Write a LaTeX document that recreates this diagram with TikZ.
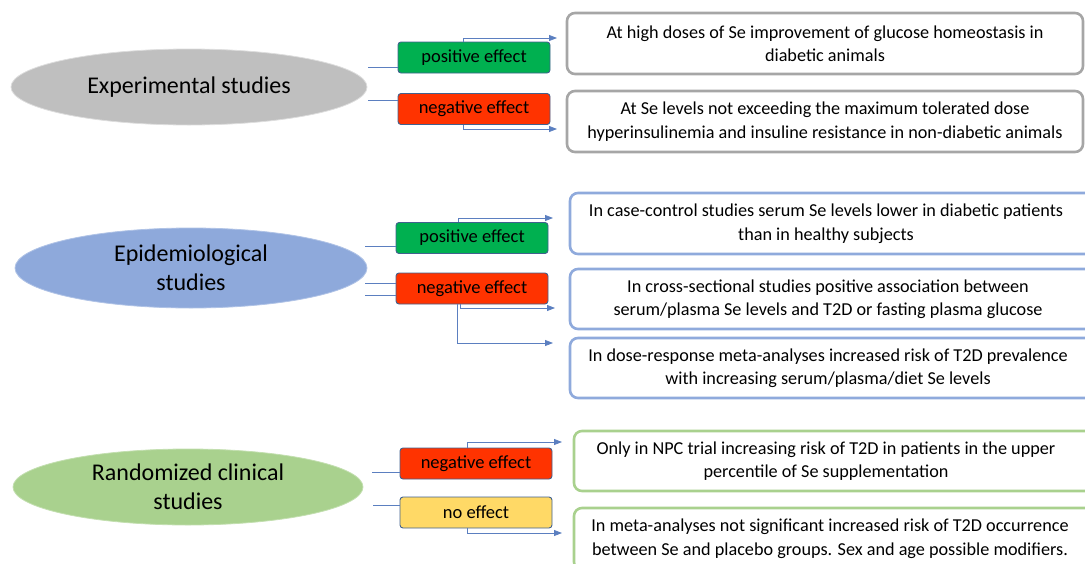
\documentclass[tikz,border=0pt]{standalone}
\usepackage{fontspec}
\setmainfont{Carlito}
\usetikzlibrary{shapes.geometric,arrows.meta}
\definecolor{ellgray}{HTML}{BFBFBF}
\definecolor{ellblue}{HTML}{8EA9DB}
\definecolor{ellgreen}{HTML}{A9D18E}
\definecolor{posgreen}{HTML}{00B050}
\definecolor{negred}{HTML}{FF3300}
\definecolor{noyellow}{HTML}{FFD966}
\definecolor{boxedge}{HTML}{41618F}
\definecolor{linkblue}{HTML}{5B7FC0}
\definecolor{rgray}{HTML}{A6A6A6}
\definecolor{rblue}{HTML}{8FAADC}
\definecolor{rgreen}{HTML}{A9D18E}
\begin{document}
\begin{tikzpicture}[x=1pt,y=-1pt,
  ell/.style={ellipse, draw=white!55!black!30, line width=0.8pt, inner sep=0pt, align=center,
    font=\fontsize{24}{29}\selectfont},
  effbox/.style={draw=boxedge, line width=0.9pt, rounded corners=3pt, minimum width=152pt,
    minimum height=31pt, inner sep=0pt, font=\fontsize{18.5}{21}\selectfont},
  rbox/.style={draw, line width=2.6pt, rounded corners=8pt, fill=white, inner sep=0pt},
  rtext/.style={align=center, inner sep=0pt, font=\fontsize{18.2}{23.5}\selectfont},
  ln/.style={draw=linkblue, line width=0.8pt},
  arr/.style={draw=linkblue, line width=0.8pt, -{Triangle[length=8pt,width=6pt]}}]
\useasboundingbox (0,0) rectangle (1085,563);
\clip (0,0) rectangle (1085,563);

% ellipses
\node[ell, fill=ellgray, minimum width=356pt, minimum height=76pt] (exp) at (189,87) {Experimental studies};
\node[ell, fill=ellblue, draw=ellblue!70!white, minimum width=352pt, minimum height=80pt] (epi) at (191,268) {Epidemiological\\studies};
\node[ell, fill=ellgreen, draw=ellgreen!70!white, minimum width=350pt, minimum height=76pt] (rct) at (188,487) {Randomized clinical\\studies};

% effect boxes
\node[effbox, fill=posgreen] (pe1) at (474,57.5) {positive effect};
\node[effbox, fill=negred] (ne1) at (474,109) {negative effect};
\node[effbox, fill=posgreen] (pe2) at (472,238) {positive effect};
\node[effbox, fill=negred] (ne2) at (472,288.5) {negative effect};
\node[effbox, fill=negred] (ne3) at (476,463.5) {negative effect};
\node[effbox, fill=noyellow] (no3) at (476,512.5) {no effect};

% right boxes
\node[rbox, draw=rgray, minimum width=516pt, minimum height=61pt] (r1) at (825,43.5) {};
\node[rbox, draw=rgray, minimum width=516pt, minimum height=61pt] (r2) at (825,121.5) {};
\node[rbox, draw=rblue, minimum width=530pt, minimum height=61pt] (r3) at (835,223.5) {};
\node[rbox, draw=rblue, minimum width=530pt, minimum height=60pt] (r4) at (835,299) {};
\node[rbox, draw=rblue, minimum width=530pt, minimum height=60pt] (r5) at (835,368) {};
\node[rbox, draw=rgreen, minimum width=526pt, minimum height=60pt] (r6) at (837,461) {};
\node[rbox, draw=rgreen, minimum width=526pt, minimum height=62pt] (r7) at (837,539) {};

\node[rtext] (t1) at (825,43.5) {At high doses of Se improvement of glucose homeostasis in\\diabetic animals};
\node[rtext] (t2) at (825,121.5) {At Se levels not exceeding the maximum tolerated dose\\hyperinsulinemia and insuline resistance in non-diabetic animals};
\node[rtext] (t3) at (826,223.5) {In case-control studies serum Se levels lower in diabetic patients\\than in healthy subjects};
\node[rtext] (t4) at (828,299) {In cross-sectional studies positive association between\\serum/plasma Se levels and T2D or fasting plasma glucose};
\node[rtext] (t5) at (828,368) {In dose-response meta-analyses increased risk of T2D prevalence\\with increasing serum/plasma/diet Se levels};
\node[rtext] (t6) at (826,461) {Only in NPC trial increasing risk of T2D in patients in the upper\\percentile of Se supplementation};
\node[rtext] (t7) at (830,538.5) {In meta-analyses not significant increased risk of T2D occurrence\\between Se and placebo groups. Sex and age possible modifiers.};

% incoming lines
\coordinate (s1) at (368,67);
\coordinate (s2) at (368,100);
\coordinate (s3) at (365,246);
\coordinate (s4) at (365,283);
\coordinate (s5) at (365,295);
\coordinate (s6) at (372,472);
\coordinate (s7) at (373,505);
\draw[ln] (s1) -- (s1 -| pe1.west);
\draw[ln] (s2) -- (s2 -| ne1.west);
\draw[ln] (s3) -- (s3 -| pe2.west);
\draw[ln] (s4) -- (s4 -| ne2.west);
\draw[ln] (s5) -- (s5 -| ne2.west);
\draw[ln] (s6) -- (s6 -| ne3.west);
\draw[ln] (s7) -- (s7 -| no3.west);

% outgoing arrows
\coordinate (a1) at (557,38);
\coordinate (a2) at (557,129);
\coordinate (a3) at (553,218);
\coordinate (a4) at (555,308);
\coordinate (a5) at (553,343);
\coordinate (a6) at (562,442);
\coordinate (a7) at (562,533);
\draw[arr] ([xshift=-11pt]pe1.north) |- (a1);
\draw[arr] ([xshift=-11pt]ne1.south) |- (a2);
\draw[arr] ([xshift=-14pt]pe2.north) |- (a3);
\draw[arr] ([xshift=-12pt]ne2.south) |- (a4);
\draw[arr] ([xshift=-15pt]ne2.south) |- (a5);
\draw[arr] ([xshift=-9pt]ne3.north) |- (a6);
\draw[arr] ([xshift=-9pt]no3.south) |- (a7);
\end{tikzpicture}
\end{document}
